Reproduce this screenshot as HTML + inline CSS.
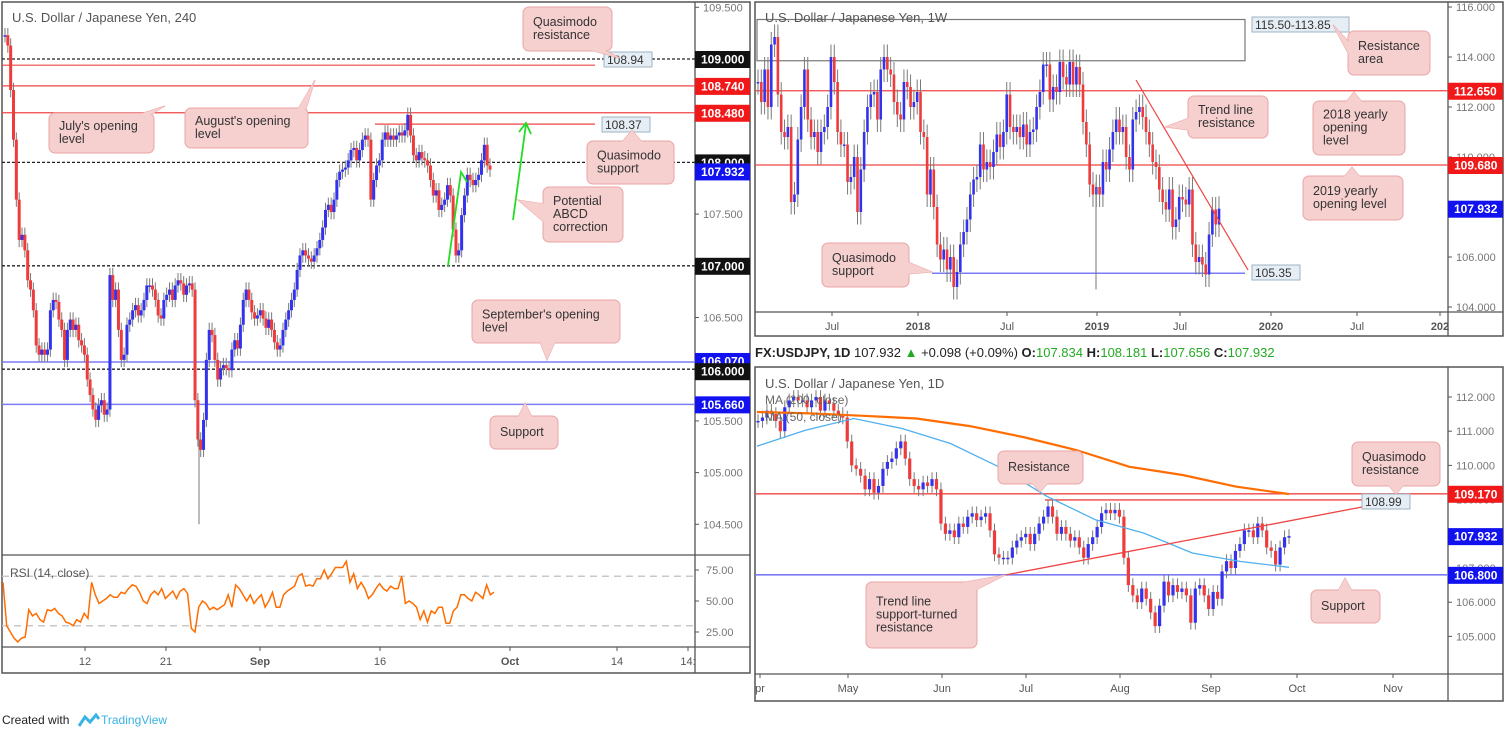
<!DOCTYPE html>
<html><head><meta charset="utf-8"><style>
html,body{margin:0;padding:0;background:#fff;}
svg{display:block;font-family:"Liberation Sans",sans-serif;}
</style></head><body>
<svg id="s" width="1506" height="733" viewBox="0 0 1506 733" xmlns="http://www.w3.org/2000/svg">
<rect width="1506" height="733" fill="#fff"/>
</svg>
<script>
// ---- data ----
const h4Closes=[109.23,109.13,108.70,108.22,107.64,107.25,107.30,107.15,106.86,106.77,106.57,106.23,106.14,106.19,106.14,106.19,106.57,106.67,106.65,106.48,106.38,106.09,106.38,106.48,106.38,106.43,106.28,106.23,106.14,105.90,105.75,105.61,105.51,105.65,105.70,105.56,105.61,106.91,106.67,106.77,106.38,106.09,106.14,106.43,106.48,106.57,106.62,106.52,106.57,106.67,106.81,106.81,106.77,106.67,106.52,106.49,106.67,106.72,106.77,106.67,106.81,106.86,106.83,106.72,106.81,106.83,106.77,105.70,105.32,105.22,105.51,106.09,106.38,106.33,106.09,105.90,106.01,106.04,106.01,105.99,106.19,106.28,106.20,106.43,106.67,106.77,106.67,106.55,106.49,106.52,106.57,106.49,106.40,106.48,106.38,106.26,106.19,106.23,106.38,106.48,106.57,106.67,106.77,106.96,107.10,107.15,107.10,107.07,107.04,107.10,107.17,107.25,107.37,107.54,107.59,107.52,107.64,107.83,107.91,107.93,107.95,108.02,108.12,108.14,108.02,108.12,108.22,108.26,108.22,107.64,107.83,107.97,108.02,108.22,108.29,108.22,108.26,108.22,108.26,108.29,108.26,108.31,108.46,108.26,108.07,108.02,108.10,108.04,108.02,107.97,107.83,107.68,107.73,107.54,107.59,107.64,107.78,107.68,107.35,107.10,107.15,107.49,107.68,107.88,107.83,107.78,107.83,107.88,108.02,108.17,107.97,107.93];
const rsiValues=[65,30,25,20,17,20,21,43,38,40,35,33,43,42,44,40,38,33,32,30,35,33,40,36,65,55,48,50,52,55,53,53,57,56,60,63,62,57,50,48,55,58,55,60,52,55,58,52,58,60,56,28,25,45,50,48,43,45,43,45,47,55,45,63,60,55,50,55,48,52,55,45,50,57,45,45,55,58,60,62,70,72,62,63,62,68,68,75,68,72,77,77,77,82,65,72,60,65,60,52,55,60,64,60,58,62,60,60,70,48,50,48,45,35,42,33,42,40,45,45,32,32,42,45,55,55,52,50,57,55,52,63,55,57];
const wkCloses=[113.0,112.2,113.5,112.0,114.5,114.8,112.5,111.0,110.8,111.2,108.2,108.5,110.7,112.0,113.5,111.5,110.8,111.0,110.2,111.0,111.2,112.0,114.0,113.0,111.0,110.5,110.5,109.0,109.2,110.0,107.8,109.5,111.0,112.0,112.5,112.6,111.5,113.5,114.0,113.5,113.3,112.2,111.7,111.5,113.0,112.8,112.0,112.2,112.6,111.0,110.8,108.5,109.5,108.0,106.5,105.9,106.3,105.5,106.0,104.8,105.4,106.5,107.0,107.5,108.5,109.1,109.2,110.5,109.5,109.8,109.6,110.2,110.9,110.4,111.0,112.5,111.2,111.0,111.2,110.8,111.3,110.5,111.0,111.1,112.0,112.6,113.7,113.7,112.3,112.8,112.6,113.8,113.2,112.9,113.8,112.9,113.6,112.9,111.4,110.5,108.9,108.5,108.8,108.5,109.8,109.5,110.3,111.0,111.5,111.0,111.2,110.0,109.5,111.5,111.8,112.0,111.6,111.0,110.5,109.8,109.6,108.7,108.2,107.9,108.7,107.2,107.5,108.4,108.3,108.1,108.7,106.5,105.8,106.0,105.7,105.3,106.9,107.9,107.3,107.932];
const dCloses=[111.3,111.4,111.6,111.5,111.3,111.0,111.7,111.9,112.0,111.9,111.9,111.7,111.9,112.0,111.6,111.9,111.8,111.6,111.5,111.4,110.7,110.0,109.9,109.7,109.3,109.6,109.2,109.4,109.9,110.1,110.2,110.5,110.7,110.2,109.6,109.4,109.3,109.5,109.4,109.6,109.3,108.3,108.0,108.1,107.9,108.3,108.2,108.5,108.6,108.4,108.5,108.6,108.1,107.4,107.3,107.3,107.3,107.6,107.8,107.9,108.0,107.7,108.0,108.3,108.5,108.8,108.5,108.0,108.2,108.0,107.8,107.9,107.6,107.3,107.7,107.9,108.2,108.6,108.7,108.6,108.7,108.5,107.3,106.5,106.2,106.0,106.4,106.1,105.7,105.3,105.9,106.6,106.2,106.5,106.3,106.4,106.2,105.4,106.4,106.5,106.2,105.8,106.3,106.1,106.9,107.2,107.0,107.5,107.7,108.1,108.1,107.9,108.3,108.1,107.6,107.5,107.1,107.6,107.9,107.932];
const ma200Values=[111.56,111.52,111.45,111.37,111.15,110.83,110.45,109.96,109.72,109.38,109.16];
const ma50Values=[110.56,111.03,111.37,111.08,110.64,109.96,109.09,108.41,108.02,107.44,107.19,107.02];
const leftAxisTicks=[109.5,109.0,108.5,108.0,107.5,107.0,106.5,106.0,105.5,105.0,104.5];
const rsiTicks=[75,50,25];
const wkAxisTicks=[116,114,112,110,108,106,104];
const dAxisTicks=[112,111,110,109,108,107,106,105];

// ---- scales ----
const yL=p=>59+(109-p)*103.4;
const yR=v=>601-(v-50)*1.24;
const yW=p=>7+(116-p)*25;
const yD=p=>397+(112-p)*34.2;
const S=document.getElementById('s');
const NS='http://www.w3.org/2000/svg';
function mk(tag,attrs,parent){const e=document.createElementNS(NS,tag);for(const k in attrs)e.setAttribute(k,attrs[k]);(parent||S).appendChild(e);return e;}
function txt(x,y,t,attrs,parent){const e=mk('text',Object.assign({x:x,y:y,'font-size':12,fill:'#555'},attrs||{}),parent);e.textContent=t;return e;}

function candles(name,closes,x0,x1,yf,bw,wk){
  const g=mk('g',{});
  
  
  const n=closes.length,step=(x1-x0)/(n-1);
  for(let i=0;i<n;i++){
    const o=i?closes[i-1]:closes[0],c=closes[i],x=x0+i*step;
    const up=c>=o,col=up?'#3333ee':'#ee3b3b';
    const hi=Math.max(o,c)+wk,lo=Math.min(o,c)-wk;
    const w=mk('line',{x1:x,x2:x,y1:yf(hi),y2:yf(lo),stroke:'#7a7a7a','stroke-width':1},g);
    
    
    const top=yf(Math.max(o,c)),h=Math.max(1.5,yf(Math.min(o,c))-top);
    const r=mk('rect',{x:x-bw/2,y:top,width:bw,height:h,fill:col},g);
    
    
  }
}
function hline(name,y,x1,x2,col,dash,w){
  const l=mk('line',{x1:x1,x2:x2,y1:y,y2:y,stroke:col,'stroke-width':w||1.3});
  if(dash)l.setAttribute('stroke-dasharray',dash);
  
  
}
function priceBox(name,x,y,t,bg){
  const g=mk('g',{});
  
  
  mk('rect',{x:x,y:y-8,width:55,height:17,fill:bg},g);
  txt(x+6,y+4.5,t,{fill:'#fff','font-size':12,'font-weight':'bold'},g);
}
function smallBox(name,x,y,t){
  const g=mk('g',{});
  
  
  mk('rect',{x:x,y:y,width:t.length*7+6,height:15,fill:'#e6eef5',stroke:'#9fb3c4'},g);
  txt(x+3,y+12,t,{fill:'#333','font-size':12},g);
}
function callout(name,x,y,w,h,lines,ptr){
  const g=mk('g',{});
  
  
  mk('polygon',{points:ptr.map(p=>p.join(',')).join(' '),fill:'#f6cfcf',stroke:'#eaa5a5'},g);
  mk('rect',{x:x,y:y,width:w,height:h,rx:6,fill:'#f6cfcf',stroke:'#eaa5a5'},g);
  mk('polygon',{points:ptr.map(p=>p.join(',')).join(' '),fill:'#f6cfcf'},g);
  const lh=13,sy=y+h/2-(lines.length*lh)/2+10;
  lines.forEach((l,i)=>txt(x+10,sy+i*lh,l,{fill:'#333','font-size':12.5},g));
}

// ================= LEFT 4H CHART =================
mk('rect',{x:2,y:2,width:748,height:671,fill:'none',stroke:'#555','stroke-width':1.5});
hline('left-rsi-separator',555,2,750,'#555',null,1.3);
hline('left-time-separator',647,2,750,'#555',null,1.3);
mk('line',{x1:695,x2:695,y1:2,y2:673,stroke:'#555','stroke-width':1.3});
txt(12,22,'U.S. Dollar / Japanese Yen, 240',{'font-size':13,fill:'#555'});
[109,108,107,106].forEach(p=>hline('round-number-level',yL(p),2,695,'#222','3,2',1.3));
hline('quasimodo-resistance-level',yL(108.94),2,595,'#ef4444',null,1.2);
hline('july-opening-level',yL(108.74),2,695,'#ef4444',null,1.2);
hline('august-opening-level',yL(108.48),2,695,'#ef4444',null,1.2);
hline('quasimodo-support-level',yL(108.37),375,595,'#ef4444',null,1.2);
hline('september-opening-level',yL(106.07),2,695,'#7b7bf5',null,1.5);
hline('support-level',yL(105.66),2,695,'#7b7bf5',null,1.5);
candles('h4-candles',h4Closes,5,490,yL,3,0.07);
mk('line',{x1:199,x2:199,y1:yL(105.4),y2:yL(104.5),stroke:'#7a7a7a'});
mk('polyline',{points:'448,266 461,172 467,182',fill:'none',stroke:'#22dd22','stroke-width':1.8});
mk('polyline',{points:'513,220 526,124',fill:'none',stroke:'#22dd22','stroke-width':1.8});
mk('polyline',{points:'519,132 526,123 531,134',fill:'none',stroke:'#22dd22','stroke-width':1.8});
smallBox('label-108-94',604,52,'108.94');
smallBox('label-108-37',602,117,'108.37');
callout('callout-quasimodo-resistance',523,7,89,44,['Quasimodo','resistance'],[[590,50],[604,50],[620,58]]);
callout('callout-july-opening',49,113,105,40,["July's opening",'level'],[[140,114],[152,114],[165,106]]);
callout('callout-august-opening',185,108,123,40,["August's opening",'level'],[[298,109],[306,109],[315,80]]);
callout('callout-quasimodo-support',587,141,87,43,['Quasimodo','support'],[[622,142],[642,142],[632,130]]);
callout('callout-abcd',543,187,80,55,['Potential','ABCD','correction'],[[544,204],[544,222],[518,200]]);
callout('callout-september-opening',472,300,148,43,["September's opening",'level'],[[540,342],[555,342],[547,360]]);
callout('callout-support',490,416,68,33,['Support'],[[518,417],[532,417],[525,403]]);
leftAxisTicks.forEach(p=>{mk('line',{x1:695,x2:699,y1:yL(p),y2:yL(p),stroke:'#555'});txt(703,yL(p)+4,p.toFixed(3),{'font-size':11,fill:'#777'});});
priceBox('axis-109-000',695,yL(109),'109.000','#111');
priceBox('axis-108-740',695,yL(108.74),'108.740','#f01818');
priceBox('axis-108-480',695,yL(108.48),'108.480','#f01818');
priceBox('axis-108-000',695,yL(108),'108.000','#111');
priceBox('axis-107-932',695,yL(107.932)+2,'107.932','#1212f0');
priceBox('axis-107-000',695,yL(107),'107.000','#111');
priceBox('axis-106-070',695,yL(106.07)-1,'106.070','#1212f0');
priceBox('axis-106-000',695,yL(106)+2,'106.000','#111');
priceBox('axis-105-660',695,yL(105.66),'105.660','#1212f0');
[70,30].forEach(v=>hline('rsi-band',yR(v),2,695,'#c8c8c8','7,5',1.5));
{const n=rsiValues.length,st=(494-3)/(n-1);
 const pl=mk('polyline',{points:rsiValues.map((v,i)=>(3+i*st).toFixed(1)+','+yR(v).toFixed(1)).join(' '),fill:'none',stroke:'#ff6d00','stroke-width':1.5});
 
 }
txt(10,577,'RSI (14, close)',{'font-size':12,fill:'#555'});
rsiTicks.forEach(v=>{mk('line',{x1:695,x2:699,y1:yR(v),y2:yR(v),stroke:'#555'});txt(706,yR(v)+4,v.toFixed(2),{'font-size':11,fill:'#777'});});
[['12',85,0],['21',166,0],['Sep',260,1],['16',380,0],['Oct',510,1],['14',617,0],['14:',688,0]].forEach(t=>{
  mk('line',{x1:t[1],x2:t[1],y1:647,y2:651,stroke:'#555'});
  txt(t[1],665,t[0],{'font-size':11,fill:'#555','text-anchor':'middle','font-weight':t[2]?'bold':'normal'});
});

// ================= TOP RIGHT 1W =================
mk('rect',{x:755,y:2,width:748,height:334,fill:'none',stroke:'#555','stroke-width':1.5});
mk('line',{x1:1448,x2:1448,y1:2,y2:336,stroke:'#555','stroke-width':1.3});
hline('weekly-time-separator',312,755,1503,'#555',null,1.3);
mk('rect',{x:757,y:yW(115.5),width:488,height:yW(113.85)-yW(115.5),fill:'none',stroke:'#777','stroke-width':1.2});
txt(765,22,'U.S. Dollar / Japanese Yen, 1W',{'font-size':13,fill:'#555'});
hline('yearly-2018-opening-level',yW(112.65),755,1448,'#ef4444',null,1.3);
hline('yearly-2019-opening-level',yW(109.68),755,1448,'#ef4444',null,1.3);
hline('weekly-quasimodo-support',yW(105.35),932,1245,'#7b7bf5',null,1.6);
candles('weekly-candles',wkCloses,758,1219,yW,2.6,0.5);
mk('line',{x1:1096,x2:1096,y1:yW(109),y2:yW(104.7),stroke:'#7a7a7a'});
mk('line',{x1:1136,y1:80,x2:1248,y2:270,stroke:'#ef4444','stroke-width':1.2});
smallBox('label-resistance-area',1252,17,'115.50-113.85');
smallBox('label-105-35',1252,265,'105.35');
callout('callout-resistance-area',1348,31,82,44,['Resistance','area'],[[1349,42],[1349,55],[1333,25]]);
callout('callout-trend-line-resistance',1188,96,80,42,['Trend line','resistance'],[[1189,118],[1189,130],[1165,127]]);
callout('callout-2018-opening',1313,101,92,54,['2018 yearly','opening','level'],[[1346,102],[1362,102],[1354,92]]);
callout('callout-2019-opening',1303,176,100,44,['2019 yearly','opening level'],[[1344,177],[1360,177],[1352,167]]);
callout('callout-weekly-quasimodo',822,243,87,44,['Quasimodo','support'],[[908,262],[908,274],[932,272]]);
wkAxisTicks.forEach(p=>{mk('line',{x1:1448,x2:1452,y1:yW(p),y2:yW(p),stroke:'#555'});txt(1456,yW(p)+4,p.toFixed(3),{'font-size':11,fill:'#777'});});
priceBox('weekly-axis-112-650',1448,yW(112.65),'112.650','#f01818');
priceBox('weekly-axis-109-680',1448,yW(109.68),'109.680','#f01818');
priceBox('weekly-axis-107-932',1448,yW(107.932),'107.932','#1212f0');
[['Jul',832,0],['2018',918,1],['Jul',1007,0],['2019',1097,1],['Jul',1180,0],['2020',1271,1],['Jul',1357,0],['202',1440,1]].forEach(t=>{
  mk('line',{x1:t[1],x2:t[1],y1:312,y2:316,stroke:'#555'});
  txt(t[1],330,t[0],{'font-size':11,fill:'#555','text-anchor':'middle','font-weight':t[2]?'bold':'normal'});
});

// ================= BOTTOM RIGHT 1D =================
{const h=mk('text',{x:755,y:357,'font-size':13,fill:'#222'});
 
 
 h.innerHTML='<tspan font-weight="bold">FX:USDJPY, 1D</tspan> 107.932 <tspan fill="#22aa22">▲</tspan> +0.098 (+0.09%) <tspan font-weight="bold">O:</tspan><tspan fill="#22aa22">107.834</tspan> <tspan font-weight="bold">H:</tspan><tspan fill="#22aa22">108.181</tspan> <tspan font-weight="bold">L:</tspan><tspan fill="#22aa22">107.656</tspan> <tspan font-weight="bold">C:</tspan><tspan fill="#22aa22">107.932</tspan>';}
mk('rect',{x:755,y:367,width:748,height:334,fill:'none',stroke:'#555','stroke-width':1.5});
mk('line',{x1:1448,x2:1448,y1:367,y2:701,stroke:'#555','stroke-width':1.3});
hline('daily-time-separator',674,755,1503,'#555',null,1.3);
hline('daily-quasimodo-resistance',yD(109.17),755,1448,'#ef4444',null,1.4);
hline('daily-resistance',yD(108.99),1045,1362,'#ef4444',null,1.4);
hline('daily-support',yD(106.8),755,1448,'#7b7bf5',null,1.6);
candles('daily-candles',dCloses,758,1289,yD,3.2,0.2);
function maLine(name,vals,col,x0,x1,w){const st=(x1-x0)/(vals.length-1);
  const pl=mk('polyline',{points:vals.map((v,i)=>(x0+i*st).toFixed(1)+','+yD(v).toFixed(1)).join(' '),fill:'none',stroke:col,'stroke-width':w});
  
  }
maLine('ma-200-line',ma200Values,'#ff6d00',757,1289,2.2);
maLine('ma-50-line',ma50Values,'#4fb0ee',757,1289,1.3);
mk('line',{x1:1006,y1:yD(106.8),x2:1362,y2:507,stroke:'#ef4444','stroke-width':1.3});
txt(765,388,'U.S. Dollar / Japanese Yen, 1D',{'font-size':13,fill:'#555'});
txt(765,404,'MA (200, close)',{'font-size':12,fill:'#666'});
txt(765,421,'MA (50, close)',{'font-size':12,fill:'#666'});
smallBox('label-108-99',1362,494,'108.99');
callout('callout-daily-resistance',998,451,85,33,['Resistance'],[[1032,483],[1048,483],[1040,492]]);
callout('callout-daily-quasimodo-resistance',1352,442,88,44,['Quasimodo','resistance'],[[1388,485],[1404,485],[1396,494]]);
callout('callout-trend-line-support-turned',866,582,111,66,['Trend line','support-turned','resistance'],[[960,583],[976,590],[1005,575]]);
callout('callout-daily-support',1311,590,69,33,['Support'],[[1338,591],[1352,591],[1345,578]]);
dAxisTicks.forEach(p=>{mk('line',{x1:1448,x2:1452,y1:yD(p),y2:yD(p),stroke:'#555'});txt(1456,yD(p)+4,p.toFixed(3),{'font-size':11,fill:'#777'});});
priceBox('daily-axis-109-170',1448,yD(109.17),'109.170','#f01818');
priceBox('daily-axis-107-932',1448,yD(107.932),'107.932','#1212f0');
priceBox('daily-axis-106-800',1448,yD(106.8),'106.800','#1212f0');
[['pr',760],['May',848],['Jun',942],['Jul',1026],['Aug',1120],['Sep',1211],['Oct',1297],['Nov',1393]].forEach(t=>{
  mk('line',{x1:t[1],x2:t[1],y1:674,y2:678,stroke:'#555'});
  txt(t[1],692,t[0],{'font-size':11,fill:'#555','text-anchor':'middle'});
});

// footer
{const g=mk('g',{});
 
 
 txt(2,724,'Created with',{'font-size':12,fill:'#222'},g);
 mk('polyline',{points:'79,726 85,717 90,722 96,715 99,719',fill:'none',stroke:'#3bb3e4','stroke-width':3},g);
 txt(101,724,'TradingView',{'font-size':12,fill:'#3bb3e4'},g);}
</script>
</body></html>
